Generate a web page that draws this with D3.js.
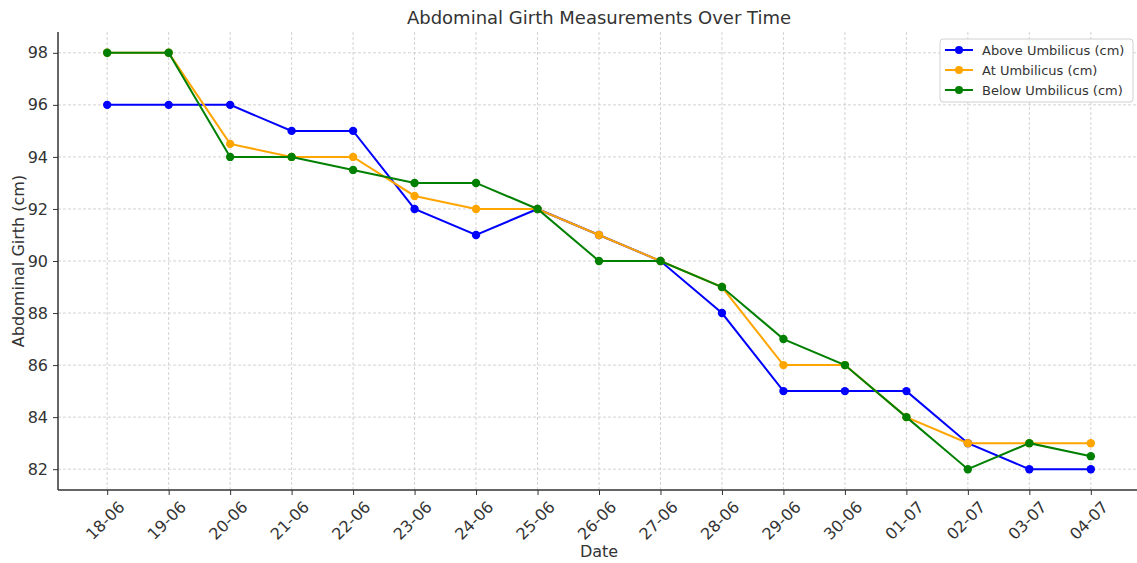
<!DOCTYPE html>
<html>
<head>
<meta charset="utf-8">
<script src="https://cdn.jsdelivr.net/npm/d3@7"></script>
<style>
  body { margin: 0; background: #fff; }
  svg { display: block; font-family: "DejaVu Sans", sans-serif; }
</style>
</head>
<body>
<svg id="chart" width="1137" height="563"></svg>
<script>
// dates (dd-mm) and the three girth series
var dates = ["18-06", "19-06", "20-06", "21-06", "22-06", "23-06", "24-06", "25-06", "26-06",
             "27-06", "28-06", "29-06", "30-06", "01-07", "02-07", "03-07", "04-07"];
var above = [96, 96, 96, 95, 95, 92, 91, 92, 91, 90, 88, 85, 85, 85, 83, 82, 82];
var atUmb = [98, 98, 94.5, 94, 94, 92.5, 92, 92, 91, 90, 89, 86, 86, 84, 83, 83, 83];
var below = [98, 98, 94, 94, 93.5, 93, 93, 92, 90, 90, 89, 87, 86, 84, 82, 83, 82.5];
var yTicks = [82, 84, 86, 88, 90, 92, 94, 96, 98];

var series = [
    {name: "Above Umbilicus (cm)", values: above, color: "#0000ff"},
    {name: "At Umbilicus (cm)", values: atUmb, color: "#ffa500"},
    {name: "Below Umbilicus (cm)", values: below, color: "#008000"}
];

var svg = d3.select("#chart");
var plotL = 58, plotR = 1140, plotT = 32, plotB = 490;

// matplotlib style 5% padding on both axes
var x = d3.scaleLinear().domain([-0.8, dates.length - 1 + 0.8]).range([plotL, plotR]);
var y = d3.scaleLinear().domain([81.2, 98.8]).range([plotB, plotT]);

// grid
var grid = svg.append("g").attr("stroke", "#c8c8c8").attr("stroke-width", 0.8)
    .attr("stroke-dasharray", "3,2");
grid.selectAll(".gx").data(dates).enter().append("line")
    .attr("x1", function(d, i) { return x(i); }).attr("x2", function(d, i) { return x(i); })
    .attr("y1", plotT).attr("y2", plotB);
grid.selectAll(".gy").data(yTicks).enter().append("line")
    .attr("x1", plotL).attr("x2", plotR)
    .attr("y1", function(d) { return y(d); }).attr("y2", function(d) { return y(d); });

// axes
var xAxis = d3.axisBottom(x).tickValues(d3.range(dates.length))
    .tickFormat(function(i) { return dates[i]; }).tickSize(5).tickPadding(4);
var yAxis = d3.axisLeft(y).tickValues(yTicks).tickSize(5).tickPadding(5);

var gx = svg.append("g").attr("transform", "translate(0," + plotB + ")").call(xAxis);
gx.selectAll("text").attr("text-anchor", "end").attr("y", 0).attr("dy", "0.35em")
    .attr("transform", "translate(14,14) rotate(-45)");
var gy = svg.append("g").attr("transform", "translate(" + plotL + ",0)").call(yAxis);

[gx, gy].forEach(function(g) {
    g.attr("font-size", null).attr("font-family", null);
    g.select(".domain").attr("stroke", "#333").attr("stroke-width", 1.5);
    g.selectAll(".tick line").attr("stroke", "#333").attr("stroke-width", 1);
    g.selectAll("text").attr("fill", "#333").style("font-size", "16px");
});
gy.select(".domain").attr("d", "M0," + plotB + "V" + plotT);
gx.select(".domain").attr("d", "M" + plotL + ",0H" + plotR);

// lines and markers
var line = d3.line().x(function(d, i) { return x(i); }).y(function(d) { return y(d); });
series.forEach(function(s) {
    var g = svg.append("g");
    g.append("path").datum(s.values).attr("d", line)
        .attr("fill", "none").attr("stroke", s.color).attr("stroke-width", 2);
    g.selectAll("circle").data(s.values).enter().append("circle")
        .attr("cx", function(d, i) { return x(i); }).attr("cy", function(d) { return y(d); })
        .attr("r", 4.2).attr("fill", s.color);
});

// titles
svg.append("text").attr("x", 599).attr("y", 24).attr("text-anchor", "middle")
    .attr("fill", "#333").style("font-size", "18px").text("Abdominal Girth Measurements Over Time");
svg.append("text").attr("x", 599).attr("y", 557).attr("text-anchor", "middle")
    .attr("fill", "#333").style("font-size", "16px").text("Date");
svg.append("text").attr("transform", "translate(24," + ((plotT + plotB) / 2) + ") rotate(-90)")
    .attr("text-anchor", "middle").attr("fill", "#333").style("font-size", "16px")
    .text("Abdominal Girth (cm)");

// legend
var lg = svg.append("g").attr("transform", "translate(940,39)");
lg.append("rect").attr("width", 193).attr("height", 63).attr("rx", 3)
    .attr("fill", "rgba(255,255,255,0.85)").attr("stroke", "#d0d0d0");
series.forEach(function(s, i) {
    var row = lg.append("g").attr("transform", "translate(0," + (11 + i * 20) + ")");
    row.append("line").attr("x1", 5).attr("x2", 33).attr("stroke", s.color).attr("stroke-width", 2);
    row.append("circle").attr("cx", 19).attr("r", 4).attr("fill", s.color);
    row.append("text").attr("x", 42).attr("dy", "0.35em").attr("fill", "#333")
        .style("font-size", "13px").text(s.name);
});
</script>
</body>
</html>
